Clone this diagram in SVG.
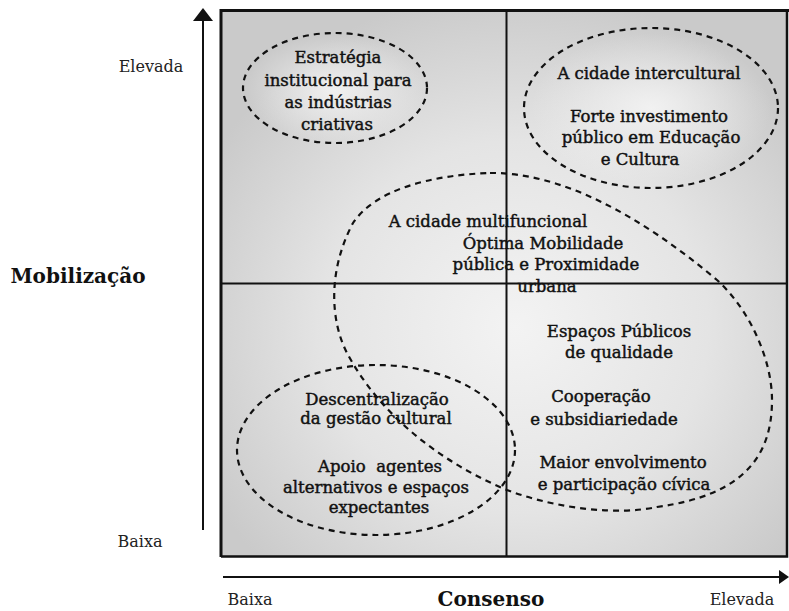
<svg xmlns="http://www.w3.org/2000/svg" width="789" height="611" viewBox="0 0 789 611">
<style>
.t{font-family:"DejaVu Serif","Liberation Serif",serif;font-size:16.5px;fill:#111;stroke:#111;stroke-width:0.45px;text-anchor:middle}
.ax{font-family:"DejaVu Serif","Liberation Serif",serif;font-size:16px;fill:#222;text-anchor:middle}
.ttl{font-family:"DejaVu Serif","Liberation Serif",serif;font-size:20px;font-weight:bold;fill:#111;text-anchor:middle}
.dash{fill:none;stroke:#111;stroke-width:2.2;stroke-dasharray:6 5}
.ln{stroke:#111;stroke-width:2;fill:none}
</style>
<defs>
<radialGradient id="bg" cx="0.52" cy="0.58" r="0.62">
<stop offset="0" stop-color="#f3f3f3"/>
<stop offset="0.55" stop-color="#e4e4e4"/>
<stop offset="1" stop-color="#cacaca"/>
</radialGradient>
<radialGradient id="spot" cx="0.5" cy="0.5" r="0.5">
<stop offset="0" stop-color="#f4f4f4" stop-opacity="0.9"/>
<stop offset="1" stop-color="#f4f4f4" stop-opacity="0"/>
</radialGradient>
</defs>
<rect x="0" y="0" width="789" height="611" fill="#fff"/>
<g id="frame">
<rect x="221" y="10.5" width="566" height="546" fill="url(#bg)"/>
<ellipse cx="335" cy="90" rx="90" ry="55" fill="url(#spot)"/>
<ellipse cx="651" cy="108" rx="120" ry="75" fill="url(#spot)"/>
<path d="M221 557 V10.5 H789" stroke="#111" stroke-width="3" fill="none"/>
<path d="M221 556.5 H787 V10.5" stroke="#111" stroke-width="2.5" fill="none"/>
<line x1="506.5" y1="10" x2="506.5" y2="557" class="ln"/>
<line x1="221" y1="283.5" x2="787" y2="283.5" class="ln"/>
</g>
<g id="connectors">
<line x1="203" y1="18" x2="203" y2="530" class="ln"/>
<polygon points="193,21 213,21 203,8" fill="#111"/>
<line x1="223" y1="577" x2="782" y2="577" class="ln"/>
<polygon points="779,570 779,584 789,577" fill="#111"/>
</g>
<g id="axis-labels">
<text class="ax" x="151" y="72">Elevada</text>
<text class="ax" x="140" y="547">Baixa</text>
<text class="ttl" x="78" y="283">Mobilização</text>
<text class="ax" x="250" y="605">Baixa</text>
<text class="ttl" x="491" y="606">Consenso</text>
<text class="ax" x="742" y="605">Elevada</text>
</g>
<g id="estrategia">
<ellipse cx="335" cy="88" rx="92" ry="55" class="dash"/>
<text class="t" x="338" y="63">Estratégia</text>
<text class="t" x="338" y="86">institucional para</text>
<text class="t" x="338" y="108">as indústrias</text>
<text class="t" x="337" y="130">criativas</text>
</g>
<g id="intercultural">
<ellipse cx="651" cy="108" rx="127" ry="80" class="dash"/>
<text class="t" x="649" y="79">A cidade intercultural</text>
<text class="t" x="649" y="122">Forte investimento</text>
<text class="t" x="651" y="143">público em Educação</text>
<text class="t" x="640" y="165">e Cultura</text>
</g>
<g id="multifuncional">
<path class="dash" d="M490 173 C560 172 640 215 717 280 C750 310 772 360 772 400 C772 455 745 495 657 507 C620 515 560 510 507 490 C440 462 380 415 347 353 C330 320 328 270 353 223 C375 190 430 175 490 173 Z"/>
<text class="t" x="488" y="227">A cidade multifuncional</text>
<text class="t" x="543" y="249">Óptima Mobilidade</text>
<text class="t" x="546" y="270">pública e Proximidade</text>
<text class="t" x="547" y="292">urbana</text>
<text class="t" x="619" y="337">Espaços Públicos</text>
<text class="t" x="619" y="358">de qualidade</text>
<text class="t" x="601" y="402">Cooperação</text>
<text class="t" x="604" y="425">e subsidiariedade</text>
<text class="t" x="623" y="468">Maior envolvimento</text>
<text class="t" x="624" y="490">e participação cívica</text>
</g>
<g id="descentralizacao">
<ellipse cx="376" cy="450" rx="139" ry="85" class="dash"/>
<text class="t" x="377" y="405">Descentralização</text>
<text class="t" x="376" y="424">da gestão cultural</text>
<text class="t" x="380" y="472" xml:space="preserve">Apoio  agentes</text>
<text class="t" x="376" y="493">alternativos e espaços</text>
<text class="t" x="379" y="513">expectantes</text>
</g>
</svg>
